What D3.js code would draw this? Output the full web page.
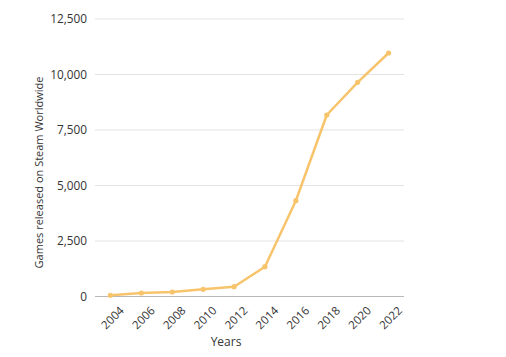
<!DOCTYPE html>
<html><head><meta charset="utf-8">
<script src="https://cdn.jsdelivr.net/npm/d3@7"></script>
<style>body{margin:0;background:#fff}svg{display:block}</style>
</head><body>
<svg id="c" width="506" height="357"></svg>
<script>
const years = ["2004","2006","2008","2010","2012","2014","2016","2018","2020","2022"];
const games = [55, 158, 203, 324, 441, 1342, 4315, 8176, 9648, 10968];
const yTicks = [0, 2500, 5000, 7500, 10000, 12500];
const yLabel = "Games released on Steam Worldwide";
const xLabel = "Years";

const svg = d3.select("#c");
const font = "'Open Sans', sans-serif";
const x = d3.scalePoint().domain(years).range([95, 404]).padding(0.5);
const y = d3.scaleLinear().domain([0, 12500]).range([296.5, 19]);

// grid
svg.append("g").selectAll("line").data(yTicks).join("line")
  .attr("x1", 95).attr("x2", 404)
  .attr("y1", d => y(d)).attr("y2", d => y(d))
  .attr("stroke", d => d === 0 ? "#b8b8b8" : "#e2e2e2").attr("stroke-width", 1);

// y axis
const ya = svg.append("g").attr("transform", "translate(87,0)")
  .call(d3.axisLeft(y).tickValues(yTicks).tickSize(0).tickPadding(0).tickFormat(d3.format(",")));
ya.select(".domain").remove();
ya.selectAll("text").attr("font-family", font).attr("font-size", 11.8).attr("fill", "#333");

// x axis
const xa = svg.append("g").attr("transform", "translate(0,296.5)")
  .call(d3.axisBottom(x).tickSize(0).tickPadding(0));
xa.select(".domain").remove();
xa.selectAll("text").attr("font-family", font).attr("font-size", 11.5).attr("fill", "#333")
  .attr("text-anchor", "end")
  .attr("transform", "translate(8,9) rotate(-45)")
  .attr("dy", "0.71em").attr("y", 0).attr("dx", 0);

// labels
svg.append("text").attr("x", 226).attr("y", 346).attr("text-anchor", "middle")
  .attr("font-family", font).attr("font-size", 12).attr("fill", "#333").text(xLabel);
svg.append("text").attr("transform", "translate(43,172.5) rotate(-90)").attr("text-anchor", "middle")
  .attr("font-family", font).attr("font-size", 11).attr("fill", "#333").text(yLabel);

// line
const color = "#f7c46c";
svg.append("path").datum(games)
  .attr("fill", "none").attr("stroke", color).attr("stroke-width", 2.5).attr("stroke-linejoin", "round")
  .attr("d", d3.line().x((d, i) => x(years[i])).y(d => y(d)));
svg.append("g").selectAll("circle").data(games).join("circle")
  .attr("cx", (d, i) => x(years[i])).attr("cy", d => y(d)).attr("r", 2.6).attr("fill", color);
</script>
</body></html>
